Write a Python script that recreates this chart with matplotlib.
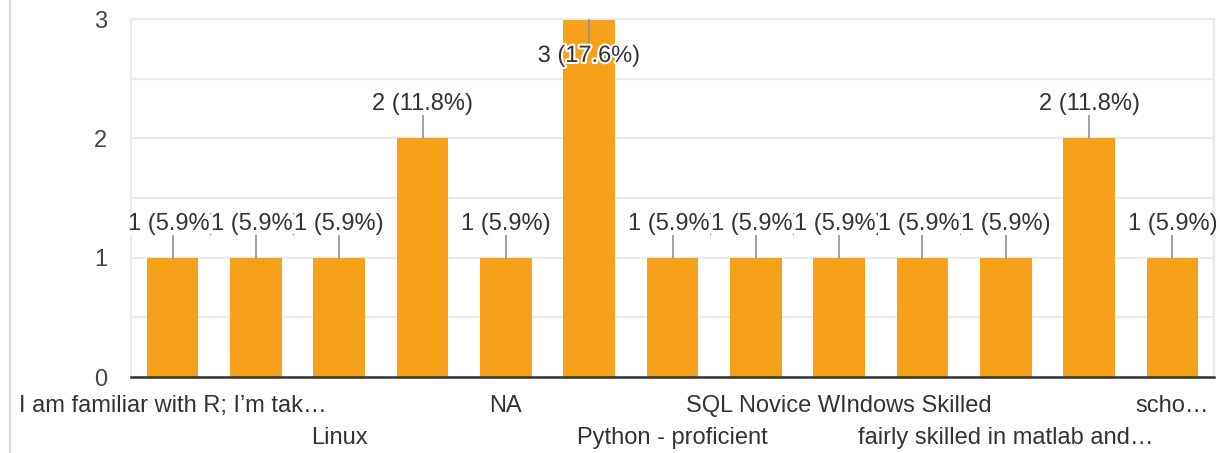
import matplotlib.pyplot as plt
import matplotlib.patheffects as pe
from matplotlib.lines import Line2D
import numpy as np

plt.rcParams['font.family'] = ['Liberation Sans', 'DejaVu Sans']

# answers (only every second label is visible in the original chart)
answers = ["I am familiar with R; I\u2019m tak\u2026", "", "Linux", "", "NA", "",
           "Python - proficient", "", "SQL Novice WIndows Skilled", "",
           "fairly skilled in matlab and\u2026", "", "scho\u2026"]
counts = [1, 1, 1, 2, 1, 3, 1, 1, 1, 1, 1, 2, 1]
y_ticks = [0, 1, 2, 3]

total = sum(counts)
bar_color = '#f7a01a'
text_color = '#333333'

fig = plt.figure(figsize=(12.2, 4.53), dpi=100)
ax = fig.add_axes([131 / 1220, 76 / 453, (1214 - 131) / 1220, (377 - 19) / 453])

x = np.arange(len(counts))
ax.bar(x, counts, width=0.62, color=bar_color, zorder=2)
ax.set_xlim(-0.5, len(counts) - 0.5)
ax.set_ylim(0, max(y_ticks))

# grid
ax.set_yticks(y_ticks)
ax.set_yticks(np.arange(0, 3.01, 0.5), minor=True)
ax.grid(axis='y', which='both', color='#ebebeb', lw=1.6)
ax.set_axisbelow(True)
ax.set_xticks([])
ax.tick_params(axis='y', which='both', length=0, pad=17, labelsize=17, labelcolor='#444444')
for s in ['left', 'top', 'right']:
    ax.spines[s].set_color('#ebebeb')
    ax.spines[s].set_linewidth(1.6)
ax.spines['bottom'].set_color('#333333')
ax.spines['bottom'].set_linewidth(1.8)
ax.spines['bottom'].set_zorder(5)

# value labels with leader lines
for i, v in enumerate(counts):
    txt = f"{v} ({v / total * 100:.1f}%)"
    if v + 0.45 <= max(y_ticks):
        ax.plot([i, i], [v, v + 0.2], color='#999999', lw=1.3, zorder=3)
        ax.text(i, v + 0.235, txt, ha='center', va='baseline', fontsize=17,
                color=text_color, zorder=4,
                bbox=dict(facecolor='white', edgecolor='none', pad=0))
    else:
        ax.plot([i, i], [v, v - 0.2], color='#999999', lw=1.3, zorder=3)
        ax.text(i, v - 0.36, txt, ha='center', va='baseline', fontsize=17,
                color=text_color, zorder=4,
                path_effects=[pe.withStroke(linewidth=3, foreground='white')])

# category labels in two staggered rows
for i, lab in enumerate(answers):
    if not lab:
        continue
    row = (i // 2) % 2
    ax.annotate(lab, xy=(i, 0), xycoords=('data', 'axes fraction'),
                xytext=(0, -35 - 32 * row), textcoords='offset pixels',
                ha='center', va='baseline', fontsize=17, color=text_color,
                annotation_clip=False)

# page border line on the left
fig.add_artist(Line2D([10 / 1220, 10 / 1220], [0, 1], transform=fig.transFigure,
                      color='#dadce0', lw=1.5))

fig.savefig('out.png', dpi=100)
